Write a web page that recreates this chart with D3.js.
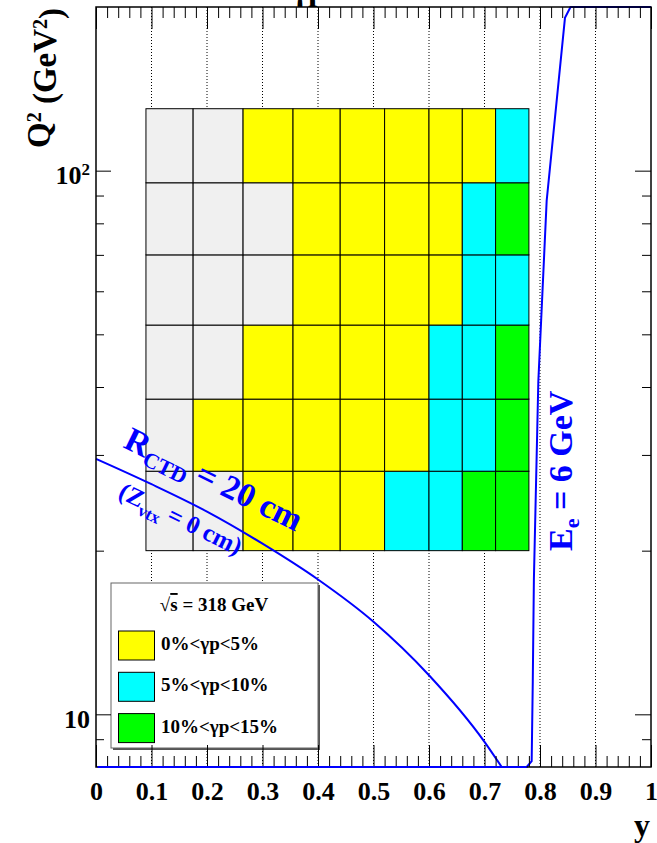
<!DOCTYPE html>
<html>
<head>
<meta charset="utf-8">
<script src="https://cdn.jsdelivr.net/npm/d3@7"></script>
<style>
  body { margin: 0; background: #fff; }
  svg { display: block; }
  text { font-family: "Liberation Serif", "Times New Roman", serif; font-weight: bold; }
</style>
</head>
<body>
<svg id="chart" width="657" height="843"></svg>
<script>
// ---- data ----
// bin edges in y (inelasticity) and Q^2 (GeV^2)
const yBinEdges  = [0.09, 0.175, 0.265, 0.355, 0.44, 0.52, 0.60, 0.66, 0.72, 0.78];
const q2BinEdges = [20, 28, 38, 52, 70, 95, 130];
// photoproduction background class per bin, rows from low to high Q^2
// 0 = not used, 1 = 0-5 %, 2 = 5-10 %, 3 = 10-15 %
const gammaPClass = [
  [0, 0, 1, 1, 1, 2, 2, 3, 3],
  [0, 1, 1, 1, 1, 1, 2, 2, 3],
  [0, 0, 1, 1, 1, 1, 2, 2, 3],
  [0, 0, 0, 1, 1, 1, 1, 2, 2],
  [0, 0, 0, 1, 1, 1, 1, 2, 3],
  [0, 0, 1, 1, 1, 1, 1, 1, 2]
];
const classColors  = ["#f0f0f0", "#ffff00", "#00ffff", "#00ff00"];
const legendLabels = ["0%<γp<5%", "5%<γp<10%", "10%<γp<15%"];

// acceptance limit: track reaching R_CTD = 20 cm
const rctdY  = [0, 0.1, 0.2, 0.3, 0.4, 0.5, 0.6, 0.7, 0.731];
const rctdQ2 = [29.5, 26.5, 23.6, 20.6, 17.7, 14.8, 11.8, 8.9, 8.0];
// scattered electron energy E_e = 6 GeV (drawn along the frame where out of range)
const eeY  = [0.003, 0.776, 0.785, 0.787, 0.789, 0.797, 0.812, 0.845, 0.855, 1.0];
const eeQ2 = [8, 8, 8.2, 11.5, 17.7, 41, 88, 191, 200, 200];

// axis ticks
const xMajorTicks  = [0, 0.1, 0.2, 0.3, 0.4, 0.5, 0.6, 0.7, 0.8, 0.9, 1];
const xTickLabels  = ["0", "0.1", "0.2", "0.3", "0.4", "0.5", "0.6", "0.7", "0.8", "0.9", "1"];
const xMinorTicks  = [0.02, 0.04, 0.06, 0.08, 0.12, 0.14, 0.16, 0.18, 0.22, 0.24, 0.26, 0.28,
                      0.32, 0.34, 0.36, 0.38, 0.42, 0.44, 0.46, 0.48, 0.52, 0.54, 0.56, 0.58,
                      0.62, 0.64, 0.66, 0.68, 0.72, 0.74, 0.76, 0.78, 0.82, 0.84, 0.86, 0.88,
                      0.92, 0.94, 0.96, 0.98];
const q2MajorTicks = [10, 100];
const q2MinorTicks = [9, 20, 30, 40, 50, 60, 70, 80, 90];
const gridValues   = [0.1, 0.2, 0.3, 0.4, 0.5, 0.6, 0.7, 0.8, 0.9];

// ---- layout ----
const L = 96, R = 651, T = 7, B = 767;
const svg = d3.select("#chart");
const x = d3.scaleLinear().domain([0, 1]).range([L, R]);
const y = d3.scaleLog().domain([8, 200]).range([B, T]);

// title (runs off the top of the canvas)
svg.append("text").attr("x", 292).attr("y", 0).attr("font-size", 34).text("γp");

// vertical dotted grid
svg.append("g").selectAll("line").data(gridValues).join("line")
  .attr("x1", d => x(d)).attr("x2", d => x(d))
  .attr("y1", T).attr("y2", B)
  .attr("stroke", "#000").attr("stroke-width", 1)
  .attr("stroke-dasharray", "1,2");

// bins
const cells = [];
gammaPClass.forEach((row, i) => row.forEach((c, j) => cells.push({
  y0: yBinEdges[j], y1: yBinEdges[j + 1], q0: q2BinEdges[i], q1: q2BinEdges[i + 1], c
})));
svg.append("g").selectAll("rect").data(cells).join("rect")
  .attr("x", d => x(d.y0)).attr("width", d => x(d.y1) - x(d.y0))
  .attr("y", d => y(d.q1)).attr("height", d => y(d.q0) - y(d.q1))
  .attr("fill", d => classColors[d.c])
  .attr("stroke", "#000").attr("stroke-width", 1);

// legend
const lg = svg.append("g");
const lx = 111, ly = 583, lw = 207, lh = 165;
lg.append("rect").attr("x", lx + 2).attr("y", ly + 2).attr("width", lw).attr("height", lh).attr("fill", "#555");
lg.append("rect").attr("x", lx).attr("y", ly).attr("width", lw).attr("height", lh)
  .attr("fill", "#fff").attr("stroke", "#666").attr("stroke-width", 1);
const hdr = lg.append("text").attr("x", 214).attr("y", 611).attr("font-size", 19).attr("text-anchor", "middle");
hdr.append("tspan").text("√");
hdr.append("tspan").attr("text-decoration", "overline").text("s");
hdr.append("tspan").text(" = 318 GeV");
legendLabels.forEach((lab, i) => {
  const yy = 631 + i * 41.3;
  lg.append("rect").attr("x", 118.5).attr("y", yy).attr("width", 36).attr("height", 29)
    .attr("fill", classColors[i + 1]).attr("stroke", "#000").attr("stroke-width", 1);
  lg.append("text").attr("x", 161).attr("y", yy + 19).attr("font-size", 19).text(lab);
});

// curves
const line = d3.line().x(d => x(d[0])).y(d => y(d[1]));
const smooth = d3.line().x(d => x(d[0])).y(d => y(d[1])).curve(d3.curveMonotoneX);
svg.append("path").datum(d3.zip(rctdY, rctdQ2)).attr("d", smooth)
  .attr("fill", "none").attr("stroke", "#0000ff").attr("stroke-width", 2);
svg.append("path").datum(d3.zip(eeY, eeQ2)).attr("d", line)
  .attr("fill", "none").attr("stroke", "#0000ff").attr("stroke-width", 2);

// axes
function styleAxis(g) {
  g.select(".domain").remove();
  g.selectAll(".tick line").attr("stroke", "#000").attr("stroke-width", 1);
  g.selectAll("text").attr("fill", "#000").attr("font-family", null);
}
const bottom = svg.append("g").attr("transform", `translate(0,${B})`)
  .call(d3.axisBottom(x).tickValues(xMajorTicks).tickSizeInner(-22).tickSizeOuter(0).tickPadding(15)
    .tickFormat((d, i) => xTickLabels[i]));
bottom.call(styleAxis).selectAll("text").attr("font-size", 26);
svg.append("g").attr("transform", `translate(0,${B})`)
  .call(d3.axisBottom(x).tickValues(xMinorTicks).tickSizeInner(-11).tickSizeOuter(0).tickFormat(""))
  .call(styleAxis);
svg.append("g").attr("transform", `translate(0,${T})`)
  .call(d3.axisTop(x).tickValues(xMajorTicks).tickSizeInner(-22).tickSizeOuter(0).tickFormat(""))
  .call(styleAxis);
svg.append("g").attr("transform", `translate(0,${T})`)
  .call(d3.axisTop(x).tickValues(xMinorTicks).tickSizeInner(-11).tickSizeOuter(0).tickFormat(""))
  .call(styleAxis);

const left = svg.append("g").attr("transform", `translate(${L},0)`)
  .call(d3.axisLeft(y).tickValues(q2MajorTicks).tickSizeInner(-15).tickSizeOuter(0).tickPadding(6)
    .tickFormat(() => ""));
left.call(styleAxis);
left.selectAll(".tick text").attr("font-size", 26).attr("dy", "0.5em").each(function (d) {
  const t = d3.select(this);
  const exp = Math.round(Math.log10(d));
  t.append("tspan").text("10");
  if (exp > 1) t.append("tspan").attr("dy", "-0.55em").attr("font-size", 17).text(String(exp));
});
svg.append("g").attr("transform", `translate(${L},0)`)
  .call(d3.axisLeft(y).tickValues(q2MinorTicks).tickSizeInner(-8).tickSizeOuter(0).tickFormat(""))
  .call(styleAxis);
svg.append("g").attr("transform", `translate(${R},0)`)
  .call(d3.axisRight(y).tickValues(q2MajorTicks).tickSizeInner(-16).tickSizeOuter(0).tickFormat(""))
  .call(styleAxis);
svg.append("g").attr("transform", `translate(${R},0)`)
  .call(d3.axisRight(y).tickValues(q2MinorTicks).tickSizeInner(-9).tickSizeOuter(0).tickFormat(""))
  .call(styleAxis);

// frame
svg.append("rect").attr("x", L).attr("y", T).attr("width", R - L).attr("height", B - T)
  .attr("fill", "none").attr("stroke", "#000").attr("stroke-width", 1.5);
// the electron-energy curve runs along the bottom edge
svg.append("path").datum(d3.zip(eeY, eeQ2).slice(0, 2)).attr("d", line)
  .attr("fill", "none").attr("stroke", "#0000ff").attr("stroke-width", 2);

// axis titles
svg.append("text").attr("x", 650).attr("y", 836).attr("font-size", 32).attr("text-anchor", "end").text("y");
const yt = svg.append("text").attr("transform", "translate(50,148) rotate(-90)").attr("font-size", 33);
yt.append("tspan").text("Q");
yt.append("tspan").attr("dy", "-0.45em").attr("font-size", 20).text("2");
yt.append("tspan").attr("dy", "0.45em").text(" (GeV");
yt.append("tspan").attr("dy", "-0.45em").attr("font-size", 20).text("2");
yt.append("tspan").attr("dy", "0.45em").text(")");

// curve annotations
const blue = "#0000ff";
const r1 = svg.append("text").attr("transform", "translate(122,447) rotate(26)").attr("fill", blue).attr("font-size", 34);
r1.append("tspan").text("R");
r1.append("tspan").attr("dy", 7).attr("font-size", 22).text("CTD");
r1.append("tspan").attr("dy", -7).text(" = 20 cm");
const r2 = svg.append("text").attr("transform", "translate(117,497) rotate(26)").attr("fill", blue).attr("font-size", 25);
r2.append("tspan").text("(Z");
r2.append("tspan").attr("dy", 7).attr("font-size", 17).text("vtx");
r2.append("tspan").attr("dy", -7).text("  = 0 cm)");
const e1 = svg.append("text").attr("transform", "translate(572,551) rotate(-90)").attr("fill", blue).attr("font-size", 34);
e1.append("tspan").text("E");
e1.append("tspan").attr("dy", 7).attr("font-size", 22).text("e");
e1.append("tspan").attr("dy", -7).text(" = 6 GeV");
</script>
</body>
</html>
